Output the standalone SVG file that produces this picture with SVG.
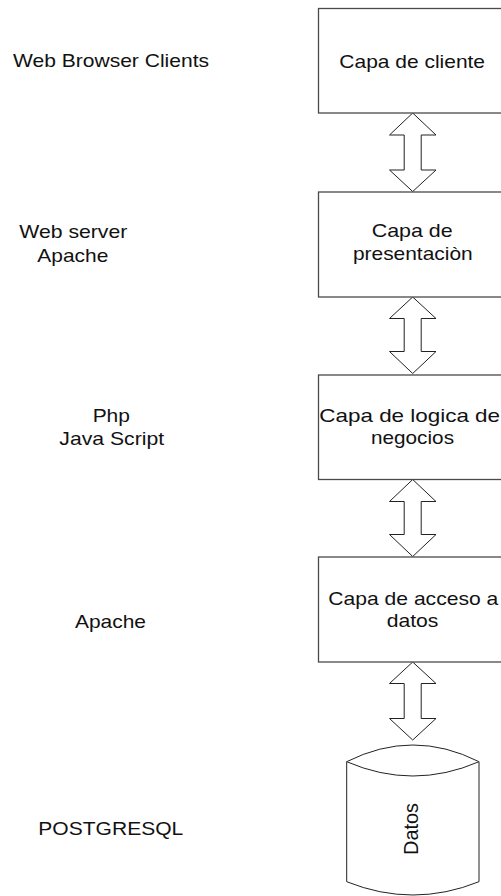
<svg xmlns="http://www.w3.org/2000/svg" width="501" height="896" viewBox="0 0 501 896">
<style>
text{font-family:"Liberation Sans",Arial,sans-serif;font-size:19px;fill:#111;text-anchor:middle}
.box{fill:#fff;stroke:#4a4a4a;stroke-width:1.3}
.arr{fill:#fff;stroke:#222;stroke-width:1}
.cyl{fill:#fff;stroke:#222;stroke-width:1}
</style>
<rect width="501" height="896" fill="#fff"/>
<g id="labels">
<text x="111" y="66.7" textLength="196" lengthAdjust="spacingAndGlyphs">Web Browser Clients</text>
<text x="73.3" y="238.3" textLength="108" lengthAdjust="spacingAndGlyphs">Web server</text>
<text x="72.8" y="261.7" textLength="71" lengthAdjust="spacingAndGlyphs">Apache</text>
<text x="111.3" y="421.7" textLength="37.3" lengthAdjust="spacingAndGlyphs">Php</text>
<text x="111.7" y="445" textLength="104.7" lengthAdjust="spacingAndGlyphs">Java Script</text>
<text x="110.5" y="628" textLength="71" lengthAdjust="spacingAndGlyphs">Apache</text>
<text x="110.8" y="835" textLength="145" lengthAdjust="spacingAndGlyphs">POSTGRESQL</text>
</g>
<g id="connectors">
<path class="arr" d="M412.7,113 L436,135 L421.2,135 L421.2,170 L436,170 L412.7,191.5 L389.5,170 L404.2,170 L404.2,135 L389.5,135 Z"/>
<path class="arr" d="M412.7,297 L436,318.5 L421.2,318.5 L421.2,351.5 L436,351.5 L412.7,373.5 L389.5,351.5 L404.2,351.5 L404.2,318.5 L389.5,318.5 Z"/>
<path class="arr" d="M412.7,479.5 L436,501.5 L421.2,501.5 L421.2,534.5 L436,534.5 L412.7,556.5 L389.5,534.5 L404.2,534.5 L404.2,501.5 L389.5,501.5 Z"/>
<path class="arr" d="M412.7,662 L436,683.5 L421.2,683.5 L421.2,718.5 L436,718.5 L412.7,740 L389.5,718.5 L404.2,718.5 L404.2,683.5 L389.5,683.5 Z"/>
</g>
<g id="n1">
<rect class="box" x="318.5" y="8.5" width="184" height="104.5"/>
<text x="412.2" y="68.3" textLength="145.7" lengthAdjust="spacingAndGlyphs">Capa de cliente</text>
</g>
<g id="n2">
<rect class="box" x="318.5" y="192" width="184" height="105"/>
<text x="412.2" y="237.3" textLength="81" lengthAdjust="spacingAndGlyphs">Capa de</text>
<text x="412.8" y="260.3" textLength="119.7" lengthAdjust="spacingAndGlyphs">presentaciòn</text>
</g>
<g id="n3">
<rect class="box" x="318.5" y="375" width="184" height="104.5"/>
<text x="409.7" y="421.7" textLength="180.7" lengthAdjust="spacingAndGlyphs">Capa de logica de</text>
<text x="412.5" y="443.5" textLength="83" lengthAdjust="spacingAndGlyphs">negocios</text>
</g>
<g id="n4">
<rect class="box" x="318.5" y="557" width="184" height="105"/>
<text x="413.3" y="605" textLength="170" lengthAdjust="spacingAndGlyphs">Capa de acceso a</text>
<text x="412.5" y="626.7" textLength="51.7" lengthAdjust="spacingAndGlyphs">datos</text>
</g>
<g id="n5">
<path class="cyl" d="M346.7,761.7 Q413,728.3 479,761.7 L479,881.7 Q413,908.3 346.7,881.7 Z"/>
<path class="cyl" fill="none" d="M346.7,761.7 Q413,790.3 479,761.7"/>
<text transform="translate(418.3,829) rotate(-90)" x="0" y="0" textLength="52" lengthAdjust="spacingAndGlyphs" style="font-size:21px">Datos</text>
</g>
</svg>
